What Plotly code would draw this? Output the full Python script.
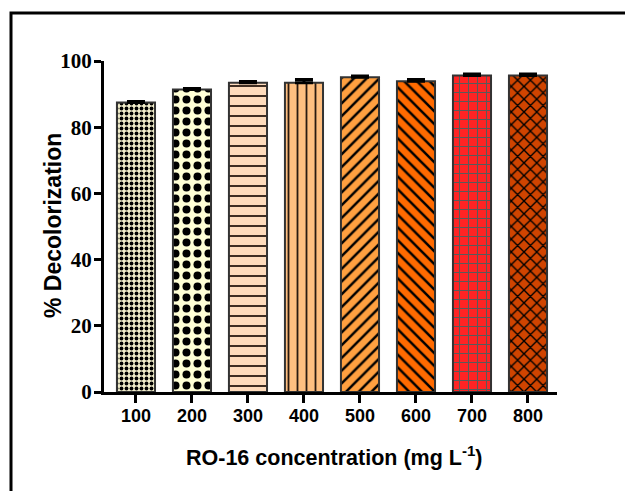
import plotly.graph_objects as go

categories = ["100", "200", "300", "400", "500", "600", "700", "800"]
decolorization = [87.5, 91.4, 93.4, 93.4, 95.1, 93.9, 95.6, 95.6]
errors = [0.3, 0.3, 0.4, 1.0, 0.4, 0.5, 0.5, 0.5]

bg_colors = ["#f2eecb", "#ffffd6", "#ffdcbc", "#ffbf80", "#ffa040", "#ff6a00", "#ff2424", "#d04400"]
fg_colors = ["#000000", "#000000", "#2a1a10", "#2a1a10", "#000000", "#000000", "#5a5a5a", "#000000"]
shapes_p = [".", ".", "-", "|", "/", "\\", "+", "x"]
sizes_p = [5, 11, 10, 9, 9, 9, 9, 9]
solid_p = [0.45, 0.42, 0.18, 0.2, 0.28, 0.28, 0.22, 0.28]

x_title = "RO-16 concentration (mg L<sup>-1</sup>)"
y_title = "% Decolorization"

fig = go.Figure()
fig.add_trace(go.Bar(
    x=categories,
    y=decolorization,
    marker=dict(
        color="white",
        line=dict(color="#333333", width=2),
        pattern=dict(shape=shapes_p, fgcolor=fg_colors, bgcolor=bg_colors,
                     size=sizes_p, solidity=solid_p, fillmode="replace", fgopacity=1),
    ),
    error_y=dict(type="data", array=errors, arrayminus=[0]*len(errors),
                 symmetric=False, color="black", thickness=3, width=9),
    width=0.68,
))

fig.update_layout(
    width=625, height=491,
    margin=dict(l=104, r=68, t=61, b=99),
    paper_bgcolor="white", plot_bgcolor="white",
    showlegend=False,
    xaxis=dict(
        range=[-0.571, 7.518],
        showline=True, linecolor="black", linewidth=3,
        ticks="outside", ticklen=8, tickwidth=3, tickcolor="black",
        tickfont=dict(family="Liberation Sans", size=18, color="black", weight="bold"),
        ticklabelstandoff=-3,
        showgrid=False, zeroline=False,
    ),
    yaxis=dict(
        range=[0, 100],
        tickvals=[0, 20, 40, 60, 80, 100],
        showline=True, linecolor="black", linewidth=3,
        ticks="outside", ticklen=7, tickwidth=3, tickcolor="black",
        tickfont=dict(family="Liberation Serif", size=21, color="black", weight="bold"),
        ticklabelstandoff=-2,
        showgrid=False, zeroline=False,
    ),
    annotations=[
        dict(text=x_title, xref="paper", yref="paper",
             x=(334 - 104) / 453, y=(392 - 456) / 331,
             xanchor="center", yanchor="middle", showarrow=False,
             font=dict(family="Liberation Sans", size=21.5, color="black", weight="bold")),
        dict(text=y_title, xref="paper", yref="paper",
             x=(53 - 104) / 453, y=(392 - 226) / 331, textangle=-90,
             xanchor="center", yanchor="middle", showarrow=False,
             font=dict(family="Liberation Sans", size=23, color="black", weight="bold")),
    ],
    shapes=[dict(type="rect", xref="paper", yref="paper",
                 x0=(11 - 104) / 453, x1=(700 - 104) / 453,
                 y0=(392 - 700) / 331, y1=(392 - 13) / 331,
                 line=dict(color="black", width=3), fillcolor="rgba(0,0,0,0)")],
)

fig.write_html("out.html")
